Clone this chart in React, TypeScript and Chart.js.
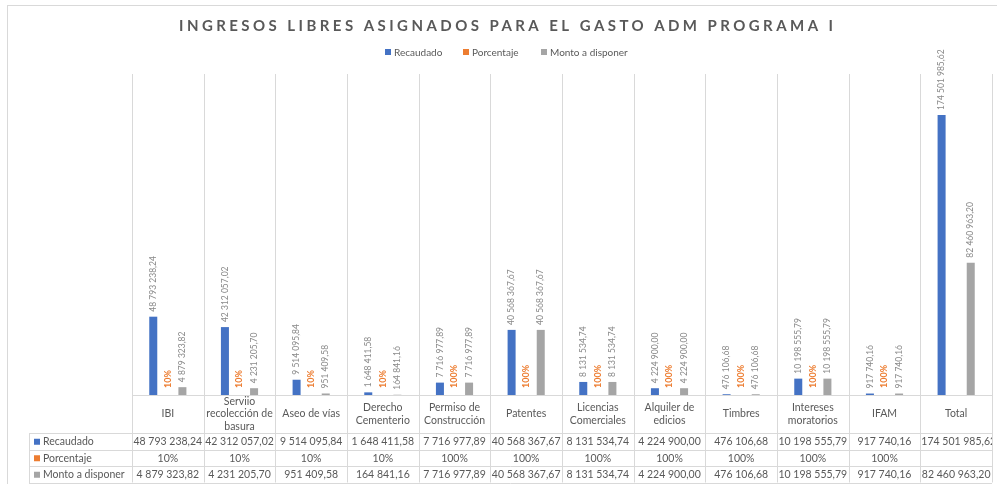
import React, { useEffect, useRef } from "react";
import { Chart, registerables } from "chart.js";
Chart.register(...registerables);

const TITLE = "INGRESOS LIBRES ASIGNADOS PARA EL GASTO ADM PROGRAMA I";
const categories: string[][] = [
  ["IBI"],
  ["Serviio", "recolección de", "basura"],
  ["Aseo de vías"],
  ["Derecho", "Cementerio"],
  ["Permiso de", "Construcción"],
  ["Patentes"],
  ["Licencias", "Comerciales"],
  ["Alquiler de", "edicios"],
  ["Timbres"],
  ["Intereses", "moratorios"],
  ["IFAM"],
  ["Total"],
];
const seriesNames = ["Recaudado", "Porcentaje", "Monto a disponer"];
const recaudado = [48793238.24, 42312057.02, 9514095.84, 1648411.58, 7716977.89, 40568367.67, 8131534.74, 4224900.0, 476106.68, 10198555.79, 917740.16, 174501985.62];
const porcentaje: (number | null)[] = [0.1, 0.1, 0.1, 0.1, 1, 1, 1, 1, 1, 1, 1, null];
const monto = [4879323.82, 4231205.7, 951409.58, 164841.16, 7716977.89, 40568367.67, 8131534.74, 4224900.0, 476106.68, 10198555.79, 917740.16, 82460963.2];
const yMax = 200000000;

const COLORS = ["#4472C4", "#ED7D31", "#A5A5A5"];
const GRID = "#D9D9D9";
const TEXT = "#595959";
const LABEL = "#8A8A8A";
const FONT = "Lato";

function fmtNum(v: number): string {
  const [i, d] = v.toFixed(2).split(".");
  const withSp = i.replace(/\B(?=(\d{3})+(?!\d))/g, " ");
  return withSp + "," + d;
}
function fmtPct(v: number): string {
  return Math.round(v * 100) + "%";
}
function fmt(ds: number, v: number): string {
  return ds === 1 ? fmtPct(v) : fmtNum(v);
}

const drawPlugin = {
  id: "excelLook",
  beforeDatasetsDraw(chart: any) {
    const { ctx, chartArea } = chart;
    const { left, right, top, bottom } = chartArea;
    const n = categories.length;
    const cw = (right - left) / n;
    const tableBottom = bottom + 38 + 16.5 * 3;
    ctx.save();
    ctx.strokeStyle = GRID;
    ctx.lineWidth = 1;
    ctx.strokeRect(7.5, 5.5, 1000, 500);
    for (let i = 0; i <= n; i++) {
      const x = Math.round(left + i * cw) + 0.5;
      ctx.beginPath();
      ctx.moveTo(x, top);
      ctx.lineTo(x, tableBottom);
      ctx.stroke();
    }
    ctx.restore();
  },
  afterDatasetsDraw(chart: any) {
    const { ctx } = chart;
    ctx.save();
    chart.data.datasets.forEach((ds: any, di: number) => {
      const meta = chart.getDatasetMeta(di);
      meta.data.forEach((el: any, idx: number) => {
        const v = ds.data[idx];
        if (v === null || v === undefined) return;
        const txt = fmt(di, v);
        ctx.save();
        ctx.translate(el.x, el.y - (di === 1 ? 7 : 5));
        ctx.rotate(-Math.PI / 2);
        ctx.textAlign = "left";
        ctx.textBaseline = "middle";
        if (di === 1) {
          ctx.font = `bold 9px ${FONT}`;
          ctx.fillStyle = COLORS[1];
        } else {
          ctx.font = `8.5px ${FONT}`;
          ctx.fillStyle = LABEL;
        }
        ctx.fillText(txt, 0, 0);
        ctx.restore();
      });
    });
    ctx.restore();
  },
  afterDraw(chart: any) {
    const { ctx, chartArea } = chart;
    const { left, right, bottom } = chartArea;
    const n = categories.length;
    const cw = (right - left) / n;
    ctx.save();

    // Title
    ctx.font = `bold 15px ${FONT}`;
    ctx.fillStyle = TEXT;
    ctx.textBaseline = "middle";
    ctx.textAlign = "left";
    const w0 = ctx.measureText(TITLE).width;
    const targetW = 654;
    const sp = (targetW - w0) / (TITLE.length - 1);
    (ctx as any).letterSpacing = sp.toFixed(2) + "px";
    ctx.fillText(TITLE, 179, 26);
    (ctx as any).letterSpacing = "0px";

    // Legend
    ctx.font = `10px ${FONT}`;
    ctx.textBaseline = "middle";
    const legX = [385, 463, 541];
    seriesNames.forEach((s, i) => {
      ctx.fillStyle = COLORS[i];
      ctx.fillRect(legX[i], 49, 6, 6);
      ctx.fillStyle = TEXT;
      ctx.fillText(s, legX[i] + 9, 52.5);
    });

    // Table
    const hdrBottom = bottom + 38;
    const rowH = 16.5;
    const tableBottom = hdrBottom + rowH * 3;
    ctx.strokeStyle = GRID;
    ctx.lineWidth = 1;
    const hl = (y: number, x0: number, x1: number) => {
      const yy = Math.round(y) + 0.5;
      ctx.beginPath();
      ctx.moveTo(x0, yy);
      ctx.lineTo(x1, yy);
      ctx.stroke();
    };
    hl(bottom, left, right);
    for (let r = 0; r <= 3; r++) hl(hdrBottom + r * rowH, 29, right);
    ctx.beginPath();
    ctx.moveTo(29.5, Math.round(hdrBottom));
    ctx.lineTo(29.5, Math.round(tableBottom) + 0.5);
    ctx.stroke();

    // header labels
    ctx.font = `10.5px ${FONT}`;
    ctx.fillStyle = TEXT;
    ctx.textAlign = "center";
    ctx.textBaseline = "middle";
    const hdrMid = bottom + 19;
    categories.forEach((lines, i) => {
      const cx = left + (i + 0.5) * cw;
      const lh = 12.5;
      const y0 = hdrMid - ((lines.length - 1) * lh) / 2;
      lines.forEach((ln, k) => ctx.fillText(ln, cx, y0 + k * lh));
    });

    // rows
    const rows = [recaudado, porcentaje, monto];
    rows.forEach((vals, r) => {
      const cy = hdrBottom + r * rowH + rowH / 2 + 0.5;
      ctx.fillStyle = COLORS[r];
      ctx.fillRect(34, cy - 3, 6, 6);
      ctx.fillStyle = TEXT;
      ctx.textAlign = "left";
      ctx.fillText(seriesNames[r], 43, cy);
      vals.forEach((v: any, i: number) => {
        if (v === null || v === undefined) return;
        const txt = fmt(r, v);
        const x0 = left + i * cw;
        const tw = ctx.measureText(txt).width;
        ctx.save();
        ctx.beginPath();
        ctx.rect(x0 + 1, cy - 9, cw - 1, 18);
        ctx.clip();
        if (tw > cw - 2) {
          ctx.textAlign = "left";
          ctx.fillText(txt, x0 + 1, cy);
        } else {
          ctx.textAlign = "center";
          ctx.fillText(txt, x0 + cw / 2, cy);
        }
        ctx.restore();
      });
    });
    ctx.restore();
  },
};

export default function App() {
  const ref = useRef<HTMLCanvasElement | null>(null);
  useEffect(() => {
    if (!ref.current) return;
    const chart = new Chart(ref.current, {
      type: "bar",
      data: {
        labels: categories.map((c) => c.join(" ")),
        datasets: [
          { label: seriesNames[0], data: recaudado, backgroundColor: COLORS[0] },
          { label: seriesNames[1], data: porcentaje, backgroundColor: COLORS[1] },
          { label: seriesNames[2], data: monto, backgroundColor: COLORS[2] },
        ],
      },
      options: {
        responsive: false,
        animation: false,
        devicePixelRatio: 1,
        categoryPercentage: 0.61,
        barPercentage: 0.55,
        layout: { padding: { left: 132, right: 5, top: 74, bottom: 89 } },
        plugins: {
          legend: { display: false },
          title: { display: false },
          tooltip: { enabled: false },
        },
        scales: {
          x: { display: false, offset: true },
          y: { display: false, min: 0, max: yMax },
        },
      } as any,
      plugins: [drawPlugin],
    });
    return () => chart.destroy();
  }, []);
  return (
    <div style={{ position: "absolute", left: 0, top: 0, width: 997, height: 484, background: "#fff" }}>
      <canvas ref={ref} width={997} height={484} style={{ display: "block" }} />
    </div>
  );
}
